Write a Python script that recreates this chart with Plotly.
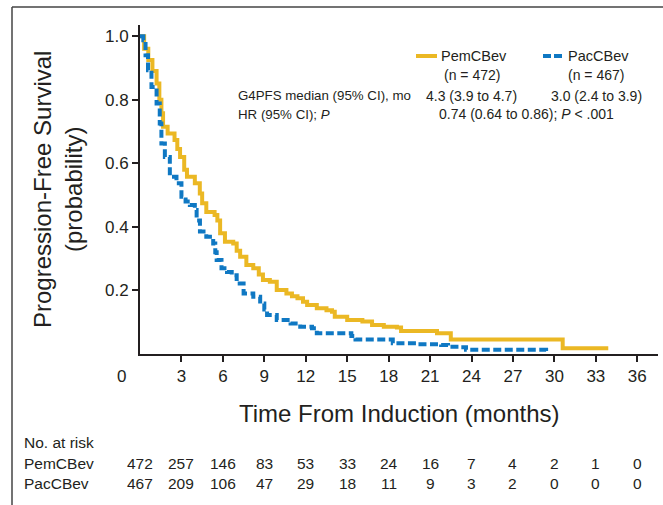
import plotly.graph_objects as go

# ---------------- data ----------------
pem_time = [0, 0.3, 0.6, 0.9, 1.2, 1.4, 1.55, 1.67, 2.0, 2.5, 2.7, 2.9, 3.2, 3.4, 3.97, 4.33,
            4.5, 4.8, 5.4, 5.6, 5.8, 6.15, 6.75, 7.0, 7.25, 7.7, 8.2, 8.6, 8.9, 9.4, 9.9, 10.6,
            11.0, 11.4, 11.8, 12.1, 12.8, 13.5, 13.9, 14.1, 15.0, 16.1, 16.8, 17.65, 18.6, 18.9,
            21.5, 22.5, 30.6, 33.9]
pem_surv = [1.0, 0.96, 0.925, 0.89, 0.851, 0.80, 0.757, 0.715, 0.694, 0.673, 0.645, 0.62, 0.58,
            0.558, 0.537, 0.505, 0.474, 0.447, 0.437, 0.42, 0.38, 0.353, 0.348, 0.325, 0.306, 0.28,
            0.27, 0.25, 0.233, 0.227, 0.201, 0.19, 0.182, 0.175, 0.164, 0.154, 0.144, 0.138, 0.133,
            0.117, 0.107, 0.102, 0.091, 0.086, 0.083, 0.072, 0.065, 0.046, 0.018, 0.018]

pac_time = [0, 0.24, 0.4, 0.58, 0.83, 1.2, 1.43, 1.55, 1.8, 2.16, 2.64, 3.0, 3.3, 3.61, 3.97,
            4.1, 4.34, 4.8, 5.3, 5.45, 5.55, 5.9, 6.3, 6.64, 7.0, 7.5, 8.2, 8.7, 9.0, 9.2, 9.9,
            10.9, 11.6, 12.45, 12.8, 15.3, 15.6, 18.3, 20.1, 21.8, 22.3, 23.1, 23.6, 29.4]
pac_surv = [1.0, 0.987, 0.94, 0.893, 0.84, 0.788, 0.725, 0.662, 0.62, 0.558, 0.537, 0.495, 0.48,
            0.469, 0.453, 0.42, 0.385, 0.369, 0.348, 0.32, 0.296, 0.27, 0.258, 0.248, 0.222, 0.19,
            0.18, 0.159, 0.14, 0.123, 0.107, 0.096, 0.086, 0.081, 0.065, 0.057, 0.046, 0.034,
            0.031, 0.028, 0.023, 0.021, 0.013, 0.0]

x_ticks = [3, 6, 9, 12, 15, 18, 21, 24, 27, 30, 33, 36]
y_ticks = [0.2, 0.4, 0.6, 0.8, 1.0]
y_tick_text = ["0.2", "0.4", "0.6", "0.8", "1.0"]

risk_times = [0, 3, 6, 9, 12, 15, 18, 21, 24, 27, 30, 33, 36]
risk_pem = [472, 257, 146, 83, 53, 33, 24, 16, 7, 4, 2, 1, 0]
risk_pac = [467, 209, 106, 47, 29, 18, 11, 9, 3, 2, 0, 0, 0]

series_names = ["PemCBev", "PacCBev"]
n_text = ["(n = 472)", "(n = 467)"]
median_text = ["4.3 (3.9 to 4.7)", "3.0 (2.4 to 3.9)"]
hr_text = "0.74 (0.64 to 0.86); <i>P</i> < .001"

# ---------------- style ----------------
YELLOW = "#EBB824"
BLUE = "#0F78C3"
TXT = "#231F20"
FONT = "Liberation Sans Narrow, Arial Narrow, Liberation Sans, Arial, sans-serif"

W_PX, H_PX = 663, 505
L, R, T, B = 140, 5, 25, 151
PW, PH = W_PX - L - R, H_PX - T - B


def px(xp):
    return (xp - L) / PW


def py(yp):
    return (H_PX - B - yp) / PH


fig = go.Figure()
fig.add_trace(go.Scatter(x=pem_time, y=pem_surv, mode="lines", line_shape="hv",
                         line=dict(color=YELLOW, width=4), name=series_names[0],
                         showlegend=False))
fig.add_trace(go.Scatter(x=pac_time, y=pac_surv, mode="lines", line_shape="hv",
                         line=dict(color=BLUE, width=4, dash="8px,3.5px"), name=series_names[1],
                         showlegend=False))

ann = []
shapes = []


def note(x, y, text, font, xanchor="center", yanchor="middle", xref="paper", **kw):
    d = dict(x=x, y=y, xref=xref, yref="paper", text=text, showarrow=False,
             xanchor=xanchor, yanchor=yanchor, font=font)
    d.update(kw)
    ann.append(d)


tickf = dict(size=17, color=TXT, family=FONT)
# "0" tick label offset left of axis
note(0, py(376), "0", tickf, xref="x", xshift=-19)

# axis titles
titf = dict(size=24, color=TXT, family=FONT)
note(px(399), py(413), "Time From Induction (months)", titf)
note(px(58), py(190), "Progression-Free Survival<br>(probability)", titf, textangle=-90)

# legend block
nf = dict(size=14.5, color=TXT, family=FONT)
lf = dict(size=14, color=TXT, family=FONT)
rf = dict(size=13.3, color=TXT, family=FONT)
shapes.append(dict(type="line", xref="paper", yref="paper", x0=px(416), x1=px(437),
                   y0=py(56), y1=py(56), line=dict(color=YELLOW, width=4)))
shapes.append(dict(type="line", xref="paper", yref="paper", x0=px(543), x1=px(563),
                   y0=py(56), y1=py(56), line=dict(color=BLUE, width=4, dash="8px,3px")))
note(px(439), py(56), series_names[0], nf, xanchor="left")
note(px(566), py(56), series_names[1], nf, xanchor="left")
note(px(472), py(75), n_text[0], lf)
note(px(596), py(75), n_text[1], lf)
note(px(236), py(96), "G4PFS median (95% CI), mo", rf, xanchor="left")
note(px(471), py(96), median_text[0], lf)
note(px(596), py(96), median_text[1], lf)
note(px(236), py(114), "HR (95% CI); <i>P</i>", rf, xanchor="left")
note(px(526), py(114), hr_text, lf)

# number at risk table
tf = dict(size=15.5, color=TXT, family=FONT)
note(px(22), py(443), "No. at risk", tf, xanchor="left")
note(px(22), py(464), series_names[0], tf, xanchor="left")
note(px(22), py(483), series_names[1], tf, xanchor="left")
for t, a, b in zip(risk_times, risk_pem, risk_pac):
    note(t, py(464), str(a), tf, xref="x")
    note(t, py(483), str(b), tf, xref="x")

# frame lines (left + top)
shapes.append(dict(type="line", xref="paper", yref="paper", x0=px(12), x1=px(12),
                   y0=py(7), y1=py(505), line=dict(color="#444", width=1.5)))
shapes.append(dict(type="line", xref="paper", yref="paper", x0=px(12), x1=px(663),
                   y0=py(7), y1=py(7), line=dict(color="#444", width=1.5)))

fig.update_layout(
    width=W_PX, height=H_PX,
    margin=dict(l=L, r=R, t=T, b=B, pad=0),
    paper_bgcolor="white", plot_bgcolor="white",
    showlegend=False,
    annotations=ann, shapes=shapes,
    font=dict(family=FONT, color=TXT),
    xaxis=dict(range=[0, 37.5], tickvals=x_ticks, ticktext=[str(v) for v in x_ticks],
               ticks="outside", ticklen=6, tickwidth=1.5, tickcolor="#231F20",
               showline=True, linecolor="#231F20", linewidth=2, showgrid=False,
               zeroline=False, tickfont=tickf),
    yaxis=dict(range=[0, 1.035], tickvals=y_ticks, ticktext=y_tick_text,
               ticks="outside", ticklen=6, tickwidth=1.5, tickcolor="#231F20",
               showline=True, linecolor="#231F20", linewidth=2, showgrid=False,
               zeroline=False, tickfont=tickf),
)

fig.write_html("out.html")
